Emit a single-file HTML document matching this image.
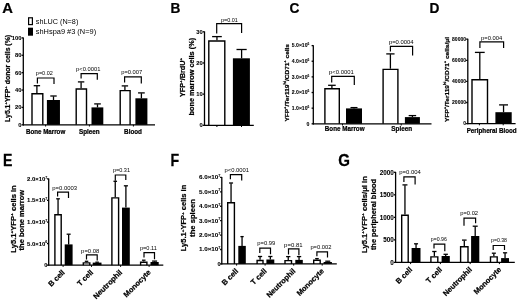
<!DOCTYPE html>
<html><head><meta charset="utf-8"><style>
html,body{margin:0;padding:0;background:#fff;}
svg{display:block;filter:blur(0.35px);}
text{font-family:"Liberation Sans", sans-serif;fill:#000;}
text[font-weight=bold]{stroke:#000;stroke-width:0.22px;}
text.tk{stroke-width:0.08px;}
</style></head><body>
<svg width="520" height="302" viewBox="0 0 520 302">
<rect width="520" height="302" fill="#fff"/>
<text transform="translate(2.2,12.9) scale(1.08,1.1)" font-size="13.7" font-weight="bold">A</text>
<text transform="translate(170.6,12.9) scale(1.0,1.1)" font-size="13.7" font-weight="bold">B</text>
<text transform="translate(289.6,12.9) scale(1.0,1.1)" font-size="13.7" font-weight="bold">C</text>
<text transform="translate(429.6,12.9) scale(1.0,1.1)" font-size="13.7" font-weight="bold">D</text>
<text transform="translate(3.0,165.8) scale(1.03,1.18)" font-size="13.7" font-weight="bold">E</text>
<text transform="translate(170.4,165.8) scale(1.03,1.18)" font-size="13.7" font-weight="bold">F</text>
<text transform="translate(338.2,165.8) scale(1.1,1.18)" font-size="13.7" font-weight="bold">G</text>
<rect x="28.60" y="17.80" width="3.80" height="6.80" fill="#fff" stroke="#000" stroke-width="1.2"/>
<rect x="28.00" y="27.70" width="5.00" height="8.00" fill="#000"/>
<text x="35.80" y="24.20" font-size="7.3" font-weight="normal" text-anchor="start" textLength="42.5" lengthAdjust="spacingAndGlyphs" >shLUC (N=8)</text>
<text x="35.80" y="33.80" font-size="7.3" font-weight="normal" text-anchor="start" textLength="60.3" lengthAdjust="spacingAndGlyphs" >shHspa9 #3 (N=9)</text>
<line x1="23.30" y1="37.50" x2="23.30" y2="125.40" stroke="#000" stroke-width="1.3"/>
<line x1="21.60" y1="124.80" x2="23.30" y2="124.80" stroke="#000" stroke-width="1.3"/>
<text x="21.50" y="126.83" font-size="5.8" font-weight="bold" text-anchor="end" class="tk">0</text>
<line x1="21.60" y1="107.42" x2="23.30" y2="107.42" stroke="#000" stroke-width="1.3"/>
<text x="21.50" y="109.45" font-size="5.8" font-weight="bold" text-anchor="end" class="tk">20</text>
<line x1="21.60" y1="90.04" x2="23.30" y2="90.04" stroke="#000" stroke-width="1.3"/>
<text x="21.50" y="92.07" font-size="5.8" font-weight="bold" text-anchor="end" class="tk">40</text>
<line x1="21.60" y1="72.66" x2="23.30" y2="72.66" stroke="#000" stroke-width="1.3"/>
<text x="21.50" y="74.69" font-size="5.8" font-weight="bold" text-anchor="end" class="tk">60</text>
<line x1="21.60" y1="55.28" x2="23.30" y2="55.28" stroke="#000" stroke-width="1.3"/>
<text x="21.50" y="57.31" font-size="5.8" font-weight="bold" text-anchor="end" class="tk">80</text>
<line x1="21.60" y1="37.90" x2="23.30" y2="37.90" stroke="#000" stroke-width="1.3"/>
<text x="21.50" y="39.93" font-size="5.8" font-weight="bold" text-anchor="end" class="tk">100</text>
<line x1="36.90" y1="93.00" x2="36.90" y2="86.00" stroke="#000" stroke-width="1.3"/>
<line x1="33.70" y1="85.70" x2="40.10" y2="85.70" stroke="#000" stroke-width="1.3"/>
<path d="M32.00,124.80V93.70H42.80V124.80" fill="#fff" stroke="#000" stroke-width="1.4"/>
<line x1="53.50" y1="100.00" x2="53.50" y2="96.30" stroke="#000" stroke-width="1.3"/>
<line x1="50.30" y1="96.00" x2="56.70" y2="96.00" stroke="#000" stroke-width="1.3"/>
<rect x="46.90" y="100.00" width="13.05" height="24.80" fill="#000"/>
<line x1="81.10" y1="88.30" x2="81.10" y2="82.20" stroke="#000" stroke-width="1.3"/>
<line x1="77.90" y1="81.90" x2="84.30" y2="81.90" stroke="#000" stroke-width="1.3"/>
<path d="M76.20,124.80V89.00H86.50V124.80" fill="#fff" stroke="#000" stroke-width="1.4"/>
<line x1="97.50" y1="107.40" x2="97.50" y2="104.20" stroke="#000" stroke-width="1.3"/>
<line x1="94.20" y1="103.90" x2="100.80" y2="103.90" stroke="#000" stroke-width="1.3"/>
<rect x="91.50" y="107.40" width="11.80" height="17.40" fill="#000"/>
<line x1="124.90" y1="89.90" x2="124.90" y2="86.20" stroke="#000" stroke-width="1.3"/>
<line x1="121.70" y1="85.90" x2="128.10" y2="85.90" stroke="#000" stroke-width="1.3"/>
<path d="M120.20,124.80V90.60H130.10V124.80" fill="#fff" stroke="#000" stroke-width="1.4"/>
<line x1="141.40" y1="98.30" x2="141.40" y2="93.20" stroke="#000" stroke-width="1.3"/>
<line x1="138.05" y1="92.90" x2="144.75" y2="92.90" stroke="#000" stroke-width="1.3"/>
<rect x="135.40" y="98.30" width="12.00" height="26.50" fill="#000"/>
<polyline points="37.4,83.4 37.4,78 54,78 54,83.9" fill="none" stroke="#000" stroke-width="1.2"/>
<text x="44.30" y="74.70" font-size="5.9" font-weight="normal" text-anchor="middle" textLength="16.9" lengthAdjust="spacingAndGlyphs" >p=0.02</text>
<polyline points="81.1,78.4 81.1,73.7 97.3,73.7 97.3,79.7" fill="none" stroke="#000" stroke-width="1.2"/>
<text x="88.20" y="70.90" font-size="5.9" font-weight="normal" text-anchor="middle" textLength="24.3" lengthAdjust="spacingAndGlyphs" >p&lt;0.0001</text>
<polyline points="124.6,82.4 124.6,76.9 141.3,76.9 141.3,83.4" fill="none" stroke="#000" stroke-width="1.2"/>
<text x="131.75" y="73.70" font-size="5.9" font-weight="normal" text-anchor="middle" textLength="21.1" lengthAdjust="spacingAndGlyphs" >p=0.007</text>
<text x="45.60" y="133.90" font-size="6.3" font-weight="bold" text-anchor="middle" textLength="39.2" lengthAdjust="spacingAndGlyphs" >Bone Marrow</text>
<text x="89.40" y="133.90" font-size="6.3" font-weight="bold" text-anchor="middle" >Spleen</text>
<text x="133.00" y="133.90" font-size="6.3" font-weight="bold" text-anchor="middle" >Blood</text>
<text transform="translate(9.5,121.9) rotate(-90)" font-size="7" font-weight="bold" text-anchor="start" textLength="87" lengthAdjust="spacingAndGlyphs">Ly5.1<tspan font-size="4.34" dy="-2.94">+</tspan><tspan dy="2.94">YFP</tspan><tspan font-size="4.34" dy="-2.94">+</tspan><tspan dy="2.94"> donor cells (%)</tspan></text>
<line x1="204.50" y1="31.40" x2="204.50" y2="125.90" stroke="#000" stroke-width="1.3"/>
<line x1="202.80" y1="125.30" x2="204.50" y2="125.30" stroke="#000" stroke-width="1.3"/>
<text x="202.70" y="127.33" font-size="5.8" font-weight="bold" text-anchor="end" class="tk">0</text>
<line x1="202.80" y1="94.13" x2="204.50" y2="94.13" stroke="#000" stroke-width="1.3"/>
<text x="202.70" y="96.16" font-size="5.8" font-weight="bold" text-anchor="end" class="tk">10</text>
<line x1="202.80" y1="62.97" x2="204.50" y2="62.97" stroke="#000" stroke-width="1.3"/>
<text x="202.70" y="65.00" font-size="5.8" font-weight="bold" text-anchor="end" class="tk">20</text>
<line x1="202.80" y1="31.80" x2="204.50" y2="31.80" stroke="#000" stroke-width="1.3"/>
<text x="202.70" y="33.83" font-size="5.8" font-weight="bold" text-anchor="end" class="tk">30</text>
<line x1="216.95" y1="40.30" x2="216.95" y2="36.90" stroke="#000" stroke-width="1.3"/>
<line x1="212.10" y1="36.60" x2="221.80" y2="36.60" stroke="#000" stroke-width="1.3"/>
<path d="M208.80,125.30V41.00H224.80V125.30" fill="#fff" stroke="#000" stroke-width="1.4"/>
<line x1="241.60" y1="58.30" x2="241.60" y2="49.80" stroke="#000" stroke-width="1.3"/>
<line x1="236.50" y1="49.50" x2="246.70" y2="49.50" stroke="#000" stroke-width="1.3"/>
<rect x="232.90" y="58.30" width="17.00" height="67.00" fill="#000"/>
<polyline points="216.7,33.4 216.7,23.6 241.6,23.6 241.6,32.9" fill="none" stroke="#000" stroke-width="1.2"/>
<text x="229.35" y="21.50" font-size="5.9" font-weight="normal" text-anchor="middle" textLength="16.9" lengthAdjust="spacingAndGlyphs" >p=0.01</text>
<text transform="translate(184.9,97.1) rotate(-90)" font-size="6.6" font-weight="bold" text-anchor="start" textLength="39.2" lengthAdjust="spacingAndGlyphs">YFP<tspan font-size="4.09" dy="-2.77">+</tspan><tspan dy="2.77">/BrdU</tspan><tspan font-size="4.09" dy="-2.77">+</tspan><tspan dy="2.77"></tspan></text>
<text transform="translate(193.8,115.5) rotate(-90)" font-size="6.6" font-weight="bold" text-anchor="start" textLength="77.6" lengthAdjust="spacingAndGlyphs">bone marrow cells (%)</text>
<line x1="313.30" y1="45.20" x2="313.30" y2="124.40" stroke="#000" stroke-width="1.3"/>
<line x1="311.60" y1="123.80" x2="313.30" y2="123.80" stroke="#000" stroke-width="1.3"/>
<text x="309.30" y="125.62" font-size="5.2" font-weight="bold" text-anchor="end" class="tk">0</text>
<line x1="311.60" y1="108.16" x2="313.30" y2="108.16" stroke="#000" stroke-width="1.3"/>
<text x="309.30" y="109.98" font-size="5.2" font-weight="bold" text-anchor="end" textLength="17.5" lengthAdjust="spacingAndGlyphs" class="tk">1.0×10<tspan font-size="3.22" dy="-2.18">6</tspan><tspan dy="2.18"></tspan></text>
<line x1="311.60" y1="92.52" x2="313.30" y2="92.52" stroke="#000" stroke-width="1.3"/>
<text x="309.30" y="94.34" font-size="5.2" font-weight="bold" text-anchor="end" textLength="17.5" lengthAdjust="spacingAndGlyphs" class="tk">2.0×10<tspan font-size="3.22" dy="-2.18">6</tspan><tspan dy="2.18"></tspan></text>
<line x1="311.60" y1="76.88" x2="313.30" y2="76.88" stroke="#000" stroke-width="1.3"/>
<text x="309.30" y="78.70" font-size="5.2" font-weight="bold" text-anchor="end" textLength="17.5" lengthAdjust="spacingAndGlyphs" class="tk">3.0×10<tspan font-size="3.22" dy="-2.18">6</tspan><tspan dy="2.18"></tspan></text>
<line x1="311.60" y1="61.24" x2="313.30" y2="61.24" stroke="#000" stroke-width="1.3"/>
<text x="309.30" y="63.06" font-size="5.2" font-weight="bold" text-anchor="end" textLength="17.5" lengthAdjust="spacingAndGlyphs" class="tk">4.0×10<tspan font-size="3.22" dy="-2.18">6</tspan><tspan dy="2.18"></tspan></text>
<line x1="311.60" y1="45.60" x2="313.30" y2="45.60" stroke="#000" stroke-width="1.3"/>
<text x="309.30" y="47.42" font-size="5.2" font-weight="bold" text-anchor="end" textLength="17.5" lengthAdjust="spacingAndGlyphs" class="tk">5.0×10<tspan font-size="3.22" dy="-2.18">6</tspan><tspan dy="2.18"></tspan></text>
<line x1="331.90" y1="88.00" x2="331.90" y2="85.60" stroke="#000" stroke-width="1.3"/>
<line x1="328.10" y1="85.30" x2="335.70" y2="85.30" stroke="#000" stroke-width="1.3"/>
<path d="M324.90,123.80V88.70H339.30V123.80" fill="#fff" stroke="#000" stroke-width="1.4"/>
<line x1="354.00" y1="108.40" x2="354.00" y2="107.90" stroke="#000" stroke-width="1.3"/>
<line x1="350.50" y1="107.60" x2="357.50" y2="107.60" stroke="#000" stroke-width="1.3"/>
<rect x="346.00" y="108.40" width="16.00" height="15.40" fill="#000"/>
<line x1="390.40" y1="68.70" x2="390.40" y2="54.20" stroke="#000" stroke-width="1.3"/>
<line x1="386.25" y1="53.90" x2="394.55" y2="53.90" stroke="#000" stroke-width="1.3"/>
<path d="M383.10,123.80V69.40H397.90V123.80" fill="#fff" stroke="#000" stroke-width="1.4"/>
<line x1="412.40" y1="117.10" x2="412.40" y2="115.90" stroke="#000" stroke-width="1.3"/>
<line x1="408.65" y1="115.60" x2="416.15" y2="115.60" stroke="#000" stroke-width="1.3"/>
<rect x="404.90" y="117.10" width="15.00" height="6.70" fill="#000"/>
<polyline points="331.7,82.4 331.7,76.4 354.3,76.4 354.3,85.1" fill="none" stroke="#000" stroke-width="1.2"/>
<text x="341.45" y="73.90" font-size="5.9" font-weight="normal" text-anchor="middle" textLength="24.7" lengthAdjust="spacingAndGlyphs" >p&lt;0.0001</text>
<polyline points="390.4,51.4 390.4,46.4 412.6,46.4 412.6,55.4" fill="none" stroke="#000" stroke-width="1.2"/>
<text x="401.25" y="43.90" font-size="5.9" font-weight="normal" text-anchor="middle" textLength="24.7" lengthAdjust="spacingAndGlyphs" >p=0.0004</text>
<text x="344.70" y="131.20" font-size="6.3" font-weight="bold" text-anchor="middle" textLength="39.7" lengthAdjust="spacingAndGlyphs" >Bone Marrow</text>
<text x="401.70" y="131.00" font-size="6.3" font-weight="bold" text-anchor="middle" textLength="20.9" lengthAdjust="spacingAndGlyphs" >Spleen</text>
<text transform="translate(288.6,121.5) rotate(-90)" font-size="5.8" font-weight="bold" text-anchor="start" textLength="77.5" lengthAdjust="spacingAndGlyphs">YFP<tspan font-size="3.60" dy="-2.44">+</tspan><tspan dy="2.44">/Ter119</tspan><tspan font-size="3.60" dy="-2.44">hi</tspan><tspan dy="2.44">/CD71</tspan><tspan font-size="3.60" dy="-2.44">+</tspan><tspan dy="2.44"> cells</tspan></text>
<line x1="467.80" y1="38.80" x2="467.80" y2="124.20" stroke="#000" stroke-width="1.3"/>
<line x1="466.10" y1="123.60" x2="467.80" y2="123.60" stroke="#000" stroke-width="1.3"/>
<text x="466.00" y="125.35" font-size="5.0" font-weight="bold" text-anchor="end" class="tk">0</text>
<line x1="466.10" y1="102.50" x2="467.80" y2="102.50" stroke="#000" stroke-width="1.3"/>
<text x="466.00" y="104.25" font-size="5.0" font-weight="bold" text-anchor="end" textLength="13.9" lengthAdjust="spacingAndGlyphs" class="tk">20000</text>
<line x1="466.10" y1="81.40" x2="467.80" y2="81.40" stroke="#000" stroke-width="1.3"/>
<text x="466.00" y="83.15" font-size="5.0" font-weight="bold" text-anchor="end" textLength="13.9" lengthAdjust="spacingAndGlyphs" class="tk">40000</text>
<line x1="466.10" y1="60.30" x2="467.80" y2="60.30" stroke="#000" stroke-width="1.3"/>
<text x="466.00" y="62.05" font-size="5.0" font-weight="bold" text-anchor="end" textLength="13.9" lengthAdjust="spacingAndGlyphs" class="tk">60000</text>
<line x1="466.10" y1="39.20" x2="467.80" y2="39.20" stroke="#000" stroke-width="1.3"/>
<text x="466.00" y="40.95" font-size="5.0" font-weight="bold" text-anchor="end" textLength="13.9" lengthAdjust="spacingAndGlyphs" class="tk">80000</text>
<line x1="479.80" y1="79.10" x2="479.80" y2="52.70" stroke="#000" stroke-width="1.3"/>
<line x1="474.90" y1="52.40" x2="484.70" y2="52.40" stroke="#000" stroke-width="1.3"/>
<path d="M472.00,123.60V79.80H487.50V123.60" fill="#fff" stroke="#000" stroke-width="1.4"/>
<line x1="503.55" y1="112.20" x2="503.55" y2="105.20" stroke="#000" stroke-width="1.3"/>
<line x1="499.10" y1="104.90" x2="508.00" y2="104.90" stroke="#000" stroke-width="1.3"/>
<rect x="495.40" y="112.20" width="16.30" height="11.40" fill="#000"/>
<polyline points="479.9,47.9 479.9,41.9 503.6,41.9 503.6,48.1" fill="none" stroke="#000" stroke-width="1.2"/>
<text x="491.70" y="39.50" font-size="5.9" font-weight="normal" text-anchor="middle" textLength="21.2" lengthAdjust="spacingAndGlyphs" >p=0.004</text>
<text x="491.70" y="132.80" font-size="6.3" font-weight="bold" text-anchor="middle" textLength="50" lengthAdjust="spacingAndGlyphs" >Peripheral Blood</text>
<text transform="translate(448.5,121.9) rotate(-90)" font-size="5.8" font-weight="bold" text-anchor="start" textLength="84.9" lengthAdjust="spacingAndGlyphs">YFP<tspan font-size="3.60" dy="-2.44">+</tspan><tspan dy="2.44">/Ter119</tspan><tspan font-size="3.60" dy="-2.44">hi</tspan><tspan dy="2.44">/CD71</tspan><tspan font-size="3.60" dy="-2.44">+</tspan><tspan dy="2.44"> cells/μl</tspan></text>
<line x1="48.70" y1="178.50" x2="48.70" y2="265.80" stroke="#000" stroke-width="1.3"/>
<line x1="47.00" y1="265.20" x2="48.70" y2="265.20" stroke="#000" stroke-width="1.3"/>
<text x="47.40" y="267.16" font-size="5.6" font-weight="bold" text-anchor="end" class="tk">0</text>
<line x1="47.00" y1="243.62" x2="48.70" y2="243.62" stroke="#000" stroke-width="1.3"/>
<text x="47.40" y="245.59" font-size="5.6" font-weight="bold" text-anchor="end" textLength="20.3" lengthAdjust="spacingAndGlyphs" class="tk">5.0×10<tspan font-size="3.47" dy="-2.35">6</tspan><tspan dy="2.35"></tspan></text>
<line x1="47.00" y1="222.05" x2="48.70" y2="222.05" stroke="#000" stroke-width="1.3"/>
<text x="47.40" y="224.01" font-size="5.6" font-weight="bold" text-anchor="end" textLength="20.3" lengthAdjust="spacingAndGlyphs" class="tk">1.0×10<tspan font-size="3.47" dy="-2.35">7</tspan><tspan dy="2.35"></tspan></text>
<line x1="47.00" y1="200.47" x2="48.70" y2="200.47" stroke="#000" stroke-width="1.3"/>
<text x="47.40" y="202.44" font-size="5.6" font-weight="bold" text-anchor="end" textLength="20.3" lengthAdjust="spacingAndGlyphs" class="tk">1.5×10<tspan font-size="3.47" dy="-2.35">7</tspan><tspan dy="2.35"></tspan></text>
<line x1="47.00" y1="178.90" x2="48.70" y2="178.90" stroke="#000" stroke-width="1.3"/>
<text x="47.40" y="180.86" font-size="5.6" font-weight="bold" text-anchor="end" textLength="20.3" lengthAdjust="spacingAndGlyphs" class="tk">2.0×10<tspan font-size="3.47" dy="-2.35">7</tspan><tspan dy="2.35"></tspan></text>
<line x1="58.05" y1="214.00" x2="58.05" y2="199.10" stroke="#000" stroke-width="1.3"/>
<line x1="56.20" y1="198.80" x2="59.90" y2="198.80" stroke="#000" stroke-width="1.3"/>
<path d="M54.90,265.20V214.70H61.20V265.20" fill="#fff" stroke="#000" stroke-width="1.4"/>
<line x1="68.65" y1="244.40" x2="68.65" y2="234.50" stroke="#000" stroke-width="1.3"/>
<line x1="66.65" y1="234.20" x2="70.65" y2="234.20" stroke="#000" stroke-width="1.3"/>
<rect x="64.70" y="244.40" width="7.90" height="20.80" fill="#000"/>
<line x1="86.55" y1="262.20" x2="86.55" y2="261.60" stroke="#000" stroke-width="1.3"/>
<line x1="84.80" y1="261.30" x2="88.30" y2="261.30" stroke="#000" stroke-width="1.3"/>
<path d="M83.30,265.20V262.90H89.80V265.20" fill="#fff" stroke="#000" stroke-width="1.4"/>
<line x1="97.10" y1="262.60" x2="97.10" y2="262.50" stroke="#000" stroke-width="1.3"/>
<line x1="95.35" y1="262.20" x2="98.85" y2="262.20" stroke="#000" stroke-width="1.3"/>
<rect x="92.70" y="262.60" width="8.80" height="2.60" fill="#000"/>
<line x1="115.25" y1="197.20" x2="115.25" y2="181.60" stroke="#000" stroke-width="1.3"/>
<line x1="113.45" y1="181.30" x2="117.05" y2="181.30" stroke="#000" stroke-width="1.3"/>
<path d="M111.90,265.20V197.90H118.60V265.20" fill="#fff" stroke="#000" stroke-width="1.4"/>
<line x1="125.90" y1="207.60" x2="125.90" y2="186.10" stroke="#000" stroke-width="1.3"/>
<line x1="123.85" y1="185.80" x2="127.95" y2="185.80" stroke="#000" stroke-width="1.3"/>
<rect x="122.00" y="207.60" width="7.80" height="57.60" fill="#000"/>
<line x1="143.75" y1="261.60" x2="143.75" y2="260.50" stroke="#000" stroke-width="1.3"/>
<line x1="141.95" y1="260.20" x2="145.55" y2="260.20" stroke="#000" stroke-width="1.3"/>
<path d="M140.60,265.20V262.30H146.90V265.20" fill="#fff" stroke="#000" stroke-width="1.4"/>
<line x1="154.60" y1="262.00" x2="154.60" y2="261.40" stroke="#000" stroke-width="1.3"/>
<line x1="152.10" y1="261.10" x2="157.10" y2="261.10" stroke="#000" stroke-width="1.3"/>
<rect x="150.50" y="262.00" width="8.20" height="3.20" fill="#000"/>
<polyline points="57.6,196.6 57.6,192.2 68.5,192.2 68.5,198.0" fill="none" stroke="#000" stroke-width="1.2"/>
<text x="64.70" y="189.80" font-size="5.9" font-weight="normal" text-anchor="middle" textLength="24.8" lengthAdjust="spacingAndGlyphs" >p=0.0003</text>
<polyline points="86.5,259.6 86.5,254.8 97.2,254.8 97.2,260.6" fill="none" stroke="#000" stroke-width="1.2"/>
<text x="90.25" y="252.60" font-size="5.9" font-weight="normal" text-anchor="middle" textLength="18.3" lengthAdjust="spacingAndGlyphs" >p=0.08</text>
<polyline points="115.3,180.7 115.3,175 125.8,175 125.8,180.1" fill="none" stroke="#000" stroke-width="1.2"/>
<text x="121.45" y="172.30" font-size="5.9" font-weight="normal" text-anchor="middle" textLength="17.1" lengthAdjust="spacingAndGlyphs" >p=0.31</text>
<polyline points="144.0,257.4 144.0,252.6 154.5,252.6 154.5,259.2" fill="none" stroke="#000" stroke-width="1.2"/>
<text x="148.35" y="249.90" font-size="5.9" font-weight="normal" text-anchor="middle" textLength="16.9" lengthAdjust="spacingAndGlyphs" >p=0.11</text>
<text transform="translate(65.3,272.9) rotate(-45)" font-size="7.5" font-weight="bold" text-anchor="end">B cell</text>
<text transform="translate(93.7,272.9) rotate(-45)" font-size="7.5" font-weight="bold" text-anchor="end">T cell</text>
<text transform="translate(122.8,272.9) rotate(-45)" font-size="7.5" font-weight="bold" text-anchor="end">Neutrophil</text>
<text transform="translate(151.29999999999998,272.9) rotate(-45)" font-size="7.5" font-weight="bold" text-anchor="end">Monocyte</text>
<text transform="translate(15.5,252.7) rotate(-90)" font-size="6.6" font-weight="bold" text-anchor="start" textLength="67.5" lengthAdjust="spacingAndGlyphs">Ly5.1<tspan font-size="4.09" dy="-2.77">+</tspan><tspan dy="2.77">YFP</tspan><tspan font-size="4.09" dy="-2.77">+</tspan><tspan dy="2.77"> cells in</tspan></text>
<text transform="translate(24.1,250.4) rotate(-90)" font-size="6.6" font-weight="bold" text-anchor="start" textLength="60.6" lengthAdjust="spacingAndGlyphs">the bone marrow</text>
<line x1="221.80" y1="177.00" x2="221.80" y2="264.50" stroke="#000" stroke-width="1.3"/>
<line x1="220.10" y1="263.90" x2="221.80" y2="263.90" stroke="#000" stroke-width="1.3"/>
<text x="220.50" y="265.86" font-size="5.6" font-weight="bold" text-anchor="end" class="tk">0</text>
<line x1="220.10" y1="249.48" x2="221.80" y2="249.48" stroke="#000" stroke-width="1.3"/>
<text x="220.50" y="251.44" font-size="5.6" font-weight="bold" text-anchor="end" textLength="21.6" lengthAdjust="spacingAndGlyphs" class="tk">1.0×10<tspan font-size="3.47" dy="-2.35">7</tspan><tspan dy="2.35"></tspan></text>
<line x1="220.10" y1="235.07" x2="221.80" y2="235.07" stroke="#000" stroke-width="1.3"/>
<text x="220.50" y="237.03" font-size="5.6" font-weight="bold" text-anchor="end" textLength="21.6" lengthAdjust="spacingAndGlyphs" class="tk">2.0×10<tspan font-size="3.47" dy="-2.35">7</tspan><tspan dy="2.35"></tspan></text>
<line x1="220.10" y1="220.65" x2="221.80" y2="220.65" stroke="#000" stroke-width="1.3"/>
<text x="220.50" y="222.61" font-size="5.6" font-weight="bold" text-anchor="end" textLength="21.6" lengthAdjust="spacingAndGlyphs" class="tk">3.0×10<tspan font-size="3.47" dy="-2.35">7</tspan><tspan dy="2.35"></tspan></text>
<line x1="220.10" y1="206.23" x2="221.80" y2="206.23" stroke="#000" stroke-width="1.3"/>
<text x="220.50" y="208.19" font-size="5.6" font-weight="bold" text-anchor="end" textLength="21.6" lengthAdjust="spacingAndGlyphs" class="tk">4.0×10<tspan font-size="3.47" dy="-2.35">7</tspan><tspan dy="2.35"></tspan></text>
<line x1="220.10" y1="191.82" x2="221.80" y2="191.82" stroke="#000" stroke-width="1.3"/>
<text x="220.50" y="193.78" font-size="5.6" font-weight="bold" text-anchor="end" textLength="21.6" lengthAdjust="spacingAndGlyphs" class="tk">5.0×10<tspan font-size="3.47" dy="-2.35">7</tspan><tspan dy="2.35"></tspan></text>
<line x1="220.10" y1="177.40" x2="221.80" y2="177.40" stroke="#000" stroke-width="1.3"/>
<text x="220.50" y="179.36" font-size="5.6" font-weight="bold" text-anchor="end" textLength="21.6" lengthAdjust="spacingAndGlyphs" class="tk">6.0×10<tspan font-size="3.47" dy="-2.35">7</tspan><tspan dy="2.35"></tspan></text>
<line x1="231.05" y1="202.00" x2="231.05" y2="183.30" stroke="#000" stroke-width="1.3"/>
<line x1="229.05" y1="183.00" x2="233.05" y2="183.00" stroke="#000" stroke-width="1.3"/>
<path d="M227.70,263.90V202.70H234.40V263.90" fill="#fff" stroke="#000" stroke-width="1.4"/>
<line x1="242.05" y1="245.90" x2="242.05" y2="236.90" stroke="#000" stroke-width="1.3"/>
<line x1="240.40" y1="236.60" x2="243.70" y2="236.60" stroke="#000" stroke-width="1.3"/>
<rect x="238.30" y="245.90" width="7.50" height="18.00" fill="#000"/>
<line x1="260.05" y1="259.80" x2="260.05" y2="256.80" stroke="#000" stroke-width="1.3"/>
<line x1="257.95" y1="256.50" x2="262.15" y2="256.50" stroke="#000" stroke-width="1.3"/>
<path d="M257.10,263.90V260.50H263.00V263.90" fill="#fff" stroke="#000" stroke-width="1.4"/>
<line x1="270.35" y1="259.50" x2="270.35" y2="256.80" stroke="#000" stroke-width="1.3"/>
<line x1="268.25" y1="256.50" x2="272.45" y2="256.50" stroke="#000" stroke-width="1.3"/>
<rect x="266.40" y="259.50" width="7.90" height="4.40" fill="#000"/>
<line x1="288.25" y1="259.90" x2="288.25" y2="256.90" stroke="#000" stroke-width="1.3"/>
<line x1="286.10" y1="256.60" x2="290.40" y2="256.60" stroke="#000" stroke-width="1.3"/>
<path d="M285.00,263.90V260.60H291.50V263.90" fill="#fff" stroke="#000" stroke-width="1.4"/>
<line x1="299.05" y1="259.90" x2="299.05" y2="256.90" stroke="#000" stroke-width="1.3"/>
<line x1="296.90" y1="256.60" x2="301.20" y2="256.60" stroke="#000" stroke-width="1.3"/>
<rect x="295.30" y="259.90" width="7.50" height="4.00" fill="#000"/>
<line x1="316.95" y1="259.60" x2="316.95" y2="258.90" stroke="#000" stroke-width="1.3"/>
<line x1="315.15" y1="258.60" x2="318.75" y2="258.60" stroke="#000" stroke-width="1.3"/>
<path d="M313.70,263.90V260.30H320.20V263.90" fill="#fff" stroke="#000" stroke-width="1.4"/>
<line x1="327.75" y1="262.00" x2="327.75" y2="261.50" stroke="#000" stroke-width="1.3"/>
<line x1="325.25" y1="261.20" x2="330.25" y2="261.20" stroke="#000" stroke-width="1.3"/>
<rect x="323.60" y="262.00" width="8.30" height="1.90" fill="#000"/>
<polyline points="230.4,179.2 230.4,174.6 241.7,174.6 241.7,180.6" fill="none" stroke="#000" stroke-width="1.2"/>
<text x="236.75" y="171.60" font-size="5.9" font-weight="normal" text-anchor="middle" textLength="24.5" lengthAdjust="spacingAndGlyphs" >p&lt;0.0001</text>
<polyline points="259.8,252.9 259.8,248.2 270.5,248.2 270.5,254.2" fill="none" stroke="#000" stroke-width="1.2"/>
<text x="266.25" y="244.80" font-size="5.9" font-weight="normal" text-anchor="middle" textLength="18.0" lengthAdjust="spacingAndGlyphs" >p=0.99</text>
<polyline points="288.5,254.6 288.5,248.9 298.9,248.9 298.9,255.3" fill="none" stroke="#000" stroke-width="1.2"/>
<text x="293.35" y="246.50" font-size="5.9" font-weight="normal" text-anchor="middle" textLength="18.5" lengthAdjust="spacingAndGlyphs" >p=0.81</text>
<polyline points="316.9,256.3 316.9,251.9 327.5,251.9 327.5,257.5" fill="none" stroke="#000" stroke-width="1.2"/>
<text x="320.95" y="249.00" font-size="5.9" font-weight="normal" text-anchor="middle" textLength="21.1" lengthAdjust="spacingAndGlyphs" >p=0.002</text>
<text transform="translate(238.79999999999998,271.59999999999997) rotate(-45)" font-size="7.5" font-weight="bold" text-anchor="end">B cell</text>
<text transform="translate(267.3,271.59999999999997) rotate(-45)" font-size="7.5" font-weight="bold" text-anchor="end">T cell</text>
<text transform="translate(295.9,271.59999999999997) rotate(-45)" font-size="7.5" font-weight="bold" text-anchor="end">Neutrophil</text>
<text transform="translate(324.4,271.59999999999997) rotate(-45)" font-size="7.5" font-weight="bold" text-anchor="end">Monocyte</text>
<text transform="translate(186.3,251.2) rotate(-90)" font-size="6.6" font-weight="bold" text-anchor="start" textLength="66.5" lengthAdjust="spacingAndGlyphs">Ly5.1<tspan font-size="4.09" dy="-2.77">+</tspan><tspan dy="2.77">YFP</tspan><tspan font-size="4.09" dy="-2.77">+</tspan><tspan dy="2.77"> cells in</tspan></text>
<text transform="translate(195.0,236.9) rotate(-90)" font-size="6.6" font-weight="bold" text-anchor="start" textLength="37.7" lengthAdjust="spacingAndGlyphs">the spleen</text>
<line x1="395.60" y1="171.90" x2="395.60" y2="263.00" stroke="#000" stroke-width="1.3"/>
<line x1="393.90" y1="262.40" x2="395.60" y2="262.40" stroke="#000" stroke-width="1.3"/>
<text x="393.80" y="264.60" font-size="6.3" font-weight="bold" text-anchor="end" class="tk">0</text>
<line x1="393.90" y1="239.88" x2="395.60" y2="239.88" stroke="#000" stroke-width="1.3"/>
<text x="393.80" y="242.08" font-size="6.3" font-weight="bold" text-anchor="end" class="tk">500</text>
<line x1="393.90" y1="217.35" x2="395.60" y2="217.35" stroke="#000" stroke-width="1.3"/>
<text x="393.80" y="219.56" font-size="6.3" font-weight="bold" text-anchor="end" class="tk">1000</text>
<line x1="393.90" y1="194.82" x2="395.60" y2="194.82" stroke="#000" stroke-width="1.3"/>
<text x="393.80" y="197.03" font-size="6.3" font-weight="bold" text-anchor="end" class="tk">1500</text>
<line x1="393.90" y1="172.30" x2="395.60" y2="172.30" stroke="#000" stroke-width="1.3"/>
<text x="393.80" y="174.51" font-size="6.3" font-weight="bold" text-anchor="end" class="tk">2000</text>
<line x1="404.95" y1="214.60" x2="404.95" y2="185.20" stroke="#000" stroke-width="1.3"/>
<line x1="402.45" y1="184.90" x2="407.45" y2="184.90" stroke="#000" stroke-width="1.3"/>
<path d="M401.70,262.40V215.30H408.20V262.40" fill="#fff" stroke="#000" stroke-width="1.4"/>
<line x1="416.05" y1="248.00" x2="416.05" y2="244.10" stroke="#000" stroke-width="1.3"/>
<line x1="414.05" y1="243.80" x2="418.05" y2="243.80" stroke="#000" stroke-width="1.3"/>
<rect x="411.60" y="248.00" width="8.90" height="14.40" fill="#000"/>
<line x1="434.35" y1="256.20" x2="434.35" y2="251.80" stroke="#000" stroke-width="1.3"/>
<line x1="432.20" y1="251.50" x2="436.50" y2="251.50" stroke="#000" stroke-width="1.3"/>
<path d="M430.90,262.40V256.90H437.80V262.40" fill="#fff" stroke="#000" stroke-width="1.4"/>
<line x1="445.70" y1="256.00" x2="445.70" y2="254.60" stroke="#000" stroke-width="1.3"/>
<line x1="443.50" y1="254.30" x2="447.90" y2="254.30" stroke="#000" stroke-width="1.3"/>
<rect x="441.60" y="256.00" width="8.20" height="6.40" fill="#000"/>
<line x1="464.30" y1="246.00" x2="464.30" y2="240.40" stroke="#000" stroke-width="1.3"/>
<line x1="462.00" y1="240.10" x2="466.60" y2="240.10" stroke="#000" stroke-width="1.3"/>
<path d="M460.60,262.40V246.70H468.00V262.40" fill="#fff" stroke="#000" stroke-width="1.4"/>
<line x1="475.20" y1="236.00" x2="475.20" y2="226.50" stroke="#000" stroke-width="1.3"/>
<line x1="472.70" y1="226.20" x2="477.70" y2="226.20" stroke="#000" stroke-width="1.3"/>
<rect x="471.10" y="236.00" width="8.20" height="26.40" fill="#000"/>
<line x1="493.85" y1="256.20" x2="493.85" y2="253.50" stroke="#000" stroke-width="1.3"/>
<line x1="491.85" y1="253.20" x2="495.85" y2="253.20" stroke="#000" stroke-width="1.3"/>
<path d="M490.50,262.40V256.90H497.20V262.40" fill="#fff" stroke="#000" stroke-width="1.4"/>
<line x1="505.05" y1="258.10" x2="505.05" y2="253.10" stroke="#000" stroke-width="1.3"/>
<line x1="502.95" y1="252.80" x2="507.15" y2="252.80" stroke="#000" stroke-width="1.3"/>
<rect x="501.10" y="258.10" width="7.90" height="4.30" fill="#000"/>
<polyline points="403.9,181.9 403.9,176.9 415.1,176.9 415.1,184.4" fill="none" stroke="#000" stroke-width="1.2"/>
<text x="410.00" y="173.90" font-size="5.9" font-weight="normal" text-anchor="middle" textLength="21.6" lengthAdjust="spacingAndGlyphs" >p=0.004</text>
<polyline points="434.0,248.6 434.0,244.2 444.8,244.2 444.8,251.2" fill="none" stroke="#000" stroke-width="1.2"/>
<text x="438.85" y="241.20" font-size="5.9" font-weight="normal" text-anchor="middle" textLength="16.1" lengthAdjust="spacingAndGlyphs" >p=0.96</text>
<polyline points="464,225.7 464,218.2 475.6,218.2 475.6,223.2" fill="none" stroke="#000" stroke-width="1.2"/>
<text x="469.15" y="214.80" font-size="5.9" font-weight="normal" text-anchor="middle" textLength="17.9" lengthAdjust="spacingAndGlyphs" >p=0.02</text>
<polyline points="493.2,250 493.2,245.5 504.5,245.5 504.5,250" fill="none" stroke="#000" stroke-width="1.2"/>
<text x="499.00" y="241.60" font-size="5.9" font-weight="normal" text-anchor="middle" textLength="16.0" lengthAdjust="spacingAndGlyphs" >p=0.38</text>
<text transform="translate(412.8,270.09999999999997) rotate(-45)" font-size="7.5" font-weight="bold" text-anchor="end">B cell</text>
<text transform="translate(442.59999999999997,270.09999999999997) rotate(-45)" font-size="7.5" font-weight="bold" text-anchor="end">T cell</text>
<text transform="translate(472.4,270.09999999999997) rotate(-45)" font-size="7.5" font-weight="bold" text-anchor="end">Neutrophil</text>
<text transform="translate(501.59999999999997,270.09999999999997) rotate(-45)" font-size="7.5" font-weight="bold" text-anchor="end">Monocyte</text>
<text transform="translate(366.8,253) rotate(-90)" font-size="6.6" font-weight="bold" text-anchor="start" textLength="76.9" lengthAdjust="spacingAndGlyphs">Ly5.1<tspan font-size="4.09" dy="-2.77">+</tspan><tspan dy="2.77">YFP</tspan><tspan font-size="4.09" dy="-2.77">+</tspan><tspan dy="2.77"> cells/μl in</tspan></text>
<text transform="translate(375.5,250.1) rotate(-90)" font-size="6.6" font-weight="bold" text-anchor="start" textLength="71.1" lengthAdjust="spacingAndGlyphs">the peripheral blood</text>
<line x1="23.00" y1="124.80" x2="155.00" y2="124.80" stroke="#000" stroke-width="1.3"/>
<line x1="45.60" y1="124.80" x2="45.60" y2="126.50" stroke="#000" stroke-width="1.0"/>
<line x1="89.40" y1="124.80" x2="89.40" y2="126.50" stroke="#000" stroke-width="1.0"/>
<line x1="133.40" y1="124.80" x2="133.40" y2="126.50" stroke="#000" stroke-width="1.0"/>
<line x1="204.30" y1="125.30" x2="253.80" y2="125.30" stroke="#000" stroke-width="1.3"/>
<line x1="216.90" y1="125.30" x2="216.90" y2="127.00" stroke="#000" stroke-width="1.0"/>
<line x1="241.50" y1="125.30" x2="241.50" y2="127.00" stroke="#000" stroke-width="1.0"/>
<line x1="313.00" y1="123.80" x2="431.50" y2="123.80" stroke="#000" stroke-width="1.3"/>
<line x1="342.50" y1="123.80" x2="342.50" y2="125.50" stroke="#000" stroke-width="1.0"/>
<line x1="401.20" y1="123.80" x2="401.20" y2="125.50" stroke="#000" stroke-width="1.0"/>
<line x1="467.60" y1="123.60" x2="515.60" y2="123.60" stroke="#000" stroke-width="1.3"/>
<line x1="479.40" y1="123.60" x2="479.40" y2="125.30" stroke="#000" stroke-width="1.0"/>
<line x1="503.20" y1="123.60" x2="503.20" y2="125.30" stroke="#000" stroke-width="1.0"/>
<line x1="48.50" y1="265.20" x2="163.30" y2="265.20" stroke="#000" stroke-width="1.3"/>
<line x1="63.10" y1="265.20" x2="63.10" y2="266.90" stroke="#000" stroke-width="1.0"/>
<line x1="91.50" y1="265.20" x2="91.50" y2="266.90" stroke="#000" stroke-width="1.0"/>
<line x1="120.60" y1="265.20" x2="120.60" y2="266.90" stroke="#000" stroke-width="1.0"/>
<line x1="149.10" y1="265.20" x2="149.10" y2="266.90" stroke="#000" stroke-width="1.0"/>
<line x1="221.50" y1="263.90" x2="336.80" y2="263.90" stroke="#000" stroke-width="1.3"/>
<line x1="236.60" y1="263.90" x2="236.60" y2="265.60" stroke="#000" stroke-width="1.0"/>
<line x1="265.10" y1="263.90" x2="265.10" y2="265.60" stroke="#000" stroke-width="1.0"/>
<line x1="293.70" y1="263.90" x2="293.70" y2="265.60" stroke="#000" stroke-width="1.0"/>
<line x1="322.20" y1="263.90" x2="322.20" y2="265.60" stroke="#000" stroke-width="1.0"/>
<line x1="395.00" y1="262.40" x2="514.80" y2="262.40" stroke="#000" stroke-width="1.3"/>
<line x1="410.60" y1="262.40" x2="410.60" y2="264.10" stroke="#000" stroke-width="1.0"/>
<line x1="440.40" y1="262.40" x2="440.40" y2="264.10" stroke="#000" stroke-width="1.0"/>
<line x1="470.20" y1="262.40" x2="470.20" y2="264.10" stroke="#000" stroke-width="1.0"/>
<line x1="499.40" y1="262.40" x2="499.40" y2="264.10" stroke="#000" stroke-width="1.0"/>
</svg>
</body></html>
